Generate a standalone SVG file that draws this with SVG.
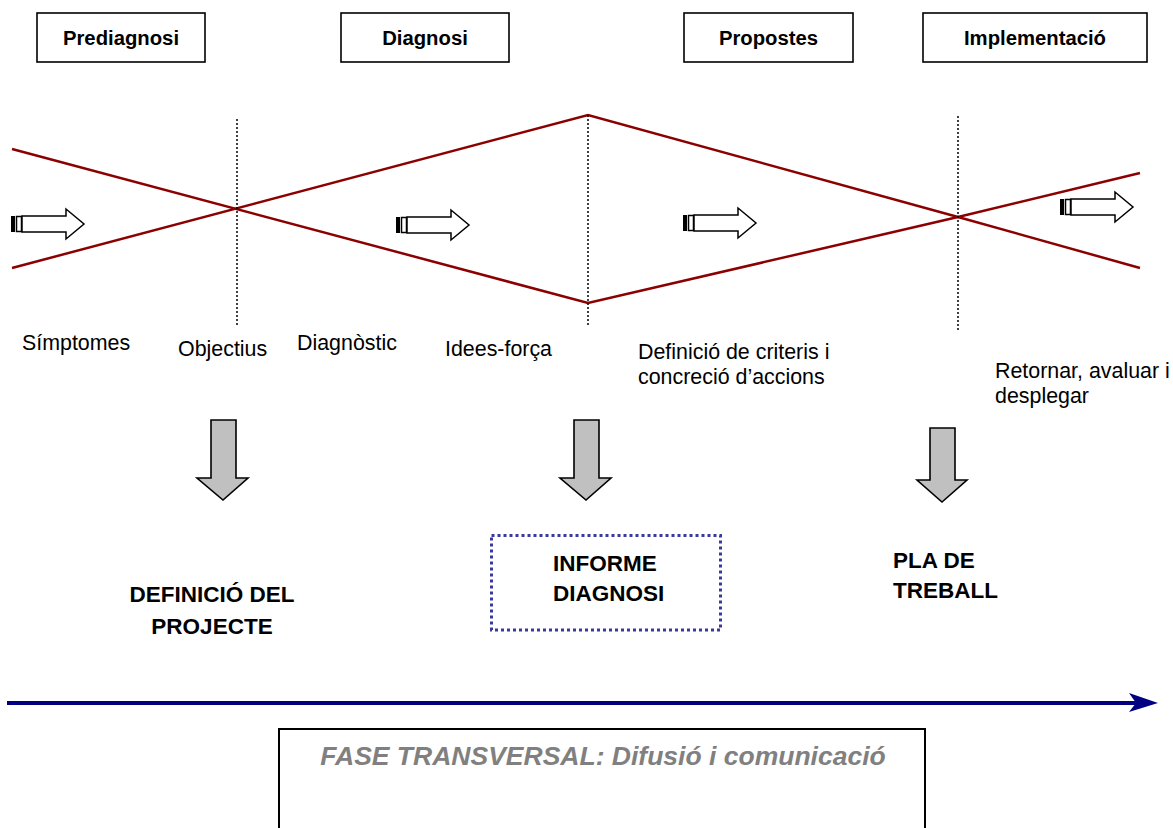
<svg xmlns="http://www.w3.org/2000/svg" width="1173" height="828" viewBox="0 0 1173 828">
<style>
.box{fill:#fff;stroke:#000;stroke-width:1.6}
.ttl{font-family:"Liberation Sans",Arial,sans-serif;font-weight:bold;font-size:20.3px;fill:#000;text-anchor:middle}
.lbl{font-family:"Liberation Sans",Arial,sans-serif;font-size:21.4px;fill:#000}
.big{font-family:"Liberation Sans",Arial,sans-serif;font-weight:bold;font-size:22.5px;fill:#000}
.red{stroke:#8B0000;stroke-width:2.5;fill:none}
.dot{stroke:#000;stroke-width:1.5;stroke-dasharray:2 2;fill:none}
.down{fill:#C0C0C0;stroke:#000;stroke-width:1.6}
</style>
<defs>
<g id="sarrow">
<rect x="0" y="-8" width="4" height="16" fill="#000"/>
<rect x="5.5" y="-7.5" width="5" height="15" fill="#fff" stroke="#000" stroke-width="1.5"/>
<path d="M11,-8 H55 V-15 L73,0 L55,15 V8 H11 Z" fill="#fff" stroke="#000" stroke-width="1.5"/>
</g>
</defs>
<rect width="1173" height="828" fill="#fff"/>

<g id="prediagnosi"><rect class="box" x="37" y="13" width="168" height="49"/><text class="ttl" x="121" y="45">Prediagnosi</text></g>
<g id="diagnosi"><rect class="box" x="341" y="13" width="168" height="49"/><text class="ttl" x="425" y="45">Diagnosi</text></g>
<g id="propostes"><rect class="box" x="684" y="13" width="169" height="49"/><text class="ttl" x="768.5" y="45">Propostes</text></g>
<g id="implementacio"><rect class="box" x="923" y="13" width="224" height="49"/><text class="ttl" x="1035" y="45">Implementació</text></g>

<g id="funnel">
<polyline class="red" points="12,149 588,303 958,217 1140,173"/>
<polyline class="red" points="12,268 588,115 958,217 1140,268"/>
<line class="dot" x1="237" y1="119" x2="237" y2="325"/>
<line class="dot" x1="588" y1="115" x2="588" y2="325"/>
<line class="dot" x1="958" y1="116" x2="958" y2="330"/>
<use href="#sarrow" x="11" y="224"/>
<use href="#sarrow" x="396" y="225"/>
<use href="#sarrow" x="683" y="223"/>
<use href="#sarrow" x="1060" y="207"/>
</g>

<g id="labels">
<text class="lbl" x="22" y="350">Símptomes</text>
<text class="lbl" x="178" y="356">Objectius</text>
<text class="lbl" x="297" y="350">Diagnòstic</text>
<text class="lbl" x="445" y="356">Idees-força</text>
<text class="lbl" x="638" y="359">Definició de criteris i</text>
<text class="lbl" x="638" y="384">concreció d’accions</text>
<text class="lbl" x="995" y="378">Retornar, avaluar i</text>
<text class="lbl" x="995" y="403">desplegar</text>
</g>

<g id="connectors">
<path class="down" d="M211,420 H236 V478 H248 L223,500 L197,478 H211 Z"/>
<path class="down" d="M574,420 H599 V478 H611 L586,500 L560,478 H574 Z"/>
<path class="down" d="M930,428 H955 V480 H967 L942,502 L917,480 H930 Z"/>
<line x1="7" y1="703" x2="1138" y2="703" stroke="#000080" stroke-width="4"/>
<path d="M1129,693 L1158,703 L1129,712 L1136,703 Z" fill="#000080"/>
</g>

<g id="definicio"><text class="big" text-anchor="middle" x="212" y="602" font-size="24">DEFINICIÓ DEL</text><text class="big" text-anchor="middle" x="212" y="634" font-size="24">PROJECTE</text></g>
<g id="informe"><rect x="491.5" y="535.5" width="229" height="94.5" fill="none" stroke="#3a3a9e" stroke-width="3" stroke-dasharray="3 3"/><text class="big" x="553" y="571">INFORME</text><text class="big" x="553" y="601">DIAGNOSI</text></g>
<g id="pla"><text class="big" x="893" y="568">PLA DE</text><text class="big" x="893" y="598">TREBALL</text></g>

<g id="transversal"><rect x="279" y="729" width="646" height="120" fill="#fff" stroke="#000" stroke-width="2"/><text x="603" y="765" font-family="Liberation Sans,Arial,sans-serif" font-weight="bold" font-style="italic" font-size="26.5" fill="#808080" text-anchor="middle">FASE TRANSVERSAL: Difusió i comunicació</text></g>
</svg>
